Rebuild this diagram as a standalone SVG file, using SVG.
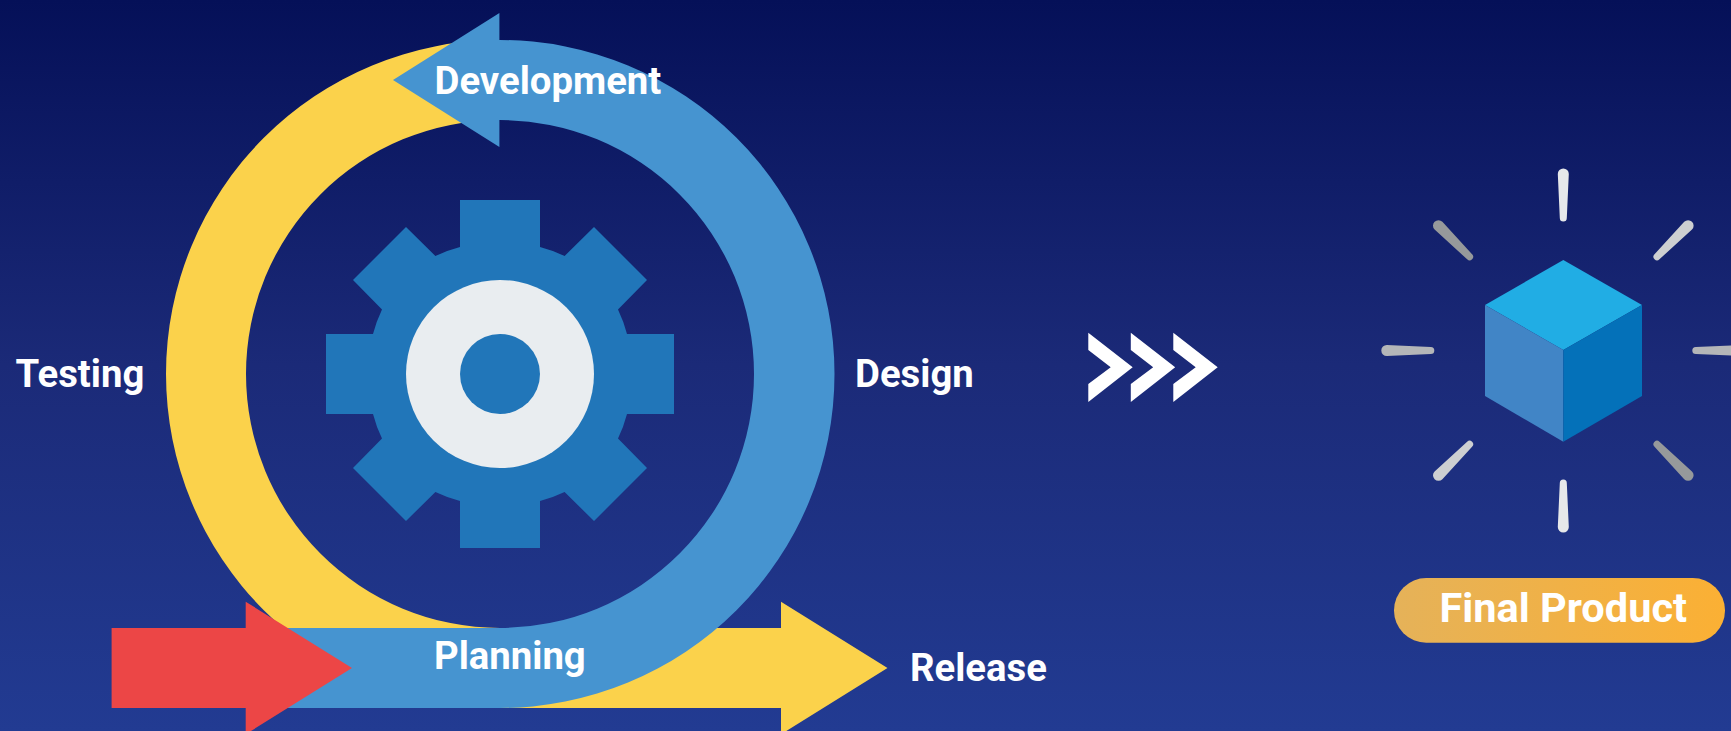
<svg xmlns="http://www.w3.org/2000/svg" xmlns:xlink="http://www.w3.org/1999/xlink" width="1731" height="731" viewBox="0 0 1731 731">
<style>
.lbl{font-family:Roboto,"Liberation Sans",sans-serif;font-weight:700;font-size:38.300px;fill:#fff}
.big{font-size:41.500px}
.gear{fill:#2176b9}
</style>
<defs>
<linearGradient id="bg" x1="0" y1="0" x2="0" y2="1"><stop offset="0" stop-color="#051058"/><stop offset="0.5" stop-color="#1b2a78"/><stop offset="1" stop-color="#223b92"/></linearGradient>
<linearGradient id="pill" x1="0" y1="0" x2="1" y2="0"><stop offset="0" stop-color="#e5b259"/><stop offset="1" stop-color="#fbb034"/></linearGradient>
<path id="ray" d="M-5.5,-176.5A5.5,5.5 0 0 1 5.5,-176.5L3.5,-132.5A3.5,3.5 0 0 1 -3.5,-132.5Z"/>
<polygon id="chev" points="0,0 44.4,34.6 0,69.3 0,51.3 22.4,34.6 0,17.3" fill="#fff"/>
</defs>
<rect id="background" width="1731" height="731" fill="url(#bg)"/>
<g id="connectors">
<path id="release-arrow" fill="#fbd24b" d="M500,628H781V601.7L887.5,668L781,734.3V708H500Z"/>
<path id="testing-arc" fill="#fbd24b" d="M500,40A334,334 0 0 0 500,708L500,628A254,254 0 0 1 500,120Z"/>
<path id="design-arc" fill="#4694d0" d="M499.4,40H500A334.500,334 0 0 1 500,708H280V628H500A254,254 0 0 0 500,120H499.4V147L393,80L499.4,13Z"/>
<path id="start-arrow" fill="#ec4646" d="M111.6,628H245.7V601.7L352,668L245.7,734.3V708H111.6Z"/>
</g>
<g id="gear">
<path class="gear" transform="translate(500,374)" d="M-40,-174H40V-127A134,134 0 0 1 64.6,-118L94,-147L147,-94L118,-64.6A134,134 0 0 1 127,-40H174V40H127A134,134 0 0 1 118,64.6L147,94L94,147L64.6,118A134,134 0 0 1 40,127V174H-40V127A134,134 0 0 1 -64.6,118L-94,147L-147,94L-118,64.6A134,134 0 0 1 -127,40H-174V-40H-127A134,134 0 0 1 -118,-64.6L-147,-94L-94,-147L-64.6,-118A134,134 0 0 1 -40,-127Z"/>
<circle cx="500" cy="374" r="94" fill="#e9edf0"/>
<circle cx="500" cy="374" r="40" class="gear"/>
</g>
<g id="chevrons">
<use xlink:href="#chev" href="#chev" x="1088.3" y="332.700"/>
<use xlink:href="#chev" href="#chev" x="1130.800" y="332.700"/>
<use xlink:href="#chev" href="#chev" x="1173.300" y="332.700"/>
</g>
<g id="final-product-cube">
<polygon points="1563.3,260 1642,305 1563.3,350 1485,305" fill="#21ade4"/>
<polygon points="1485,305 1563.3,350 1563.3,441.700 1485,396" fill="#4185c6"/>
<polygon points="1642,305 1563.3,350 1563.3,441.700 1642,396" fill="#0471b9"/>
<g transform="translate(1563.3,350.500)">
<use href="#ray" fill="#e6e8ea"/>
<use href="#ray" fill="#cdcfd1" transform="rotate(45)"/>
<use href="#ray" fill="#b4b6b8" transform="rotate(90)"/>
<use href="#ray" fill="#96999b" transform="rotate(135)"/>
<use href="#ray" fill="#e6e8ea" transform="rotate(180)"/>
<use href="#ray" fill="#cdcfd1" transform="rotate(225)"/>
<use href="#ray" fill="#b4b6b8" transform="rotate(270)"/>
<use href="#ray" fill="#96999b" transform="rotate(315)"/>
</g>
</g>
<g id="final-product">
<rect x="1394" y="578" width="331" height="64.700" rx="32.300" fill="url(#pill)"/>
<text class="lbl big" x="1439.500" y="622">Final Product</text>
</g>
<g id="development"><text class="lbl" x="434.500" y="93.500">Development</text></g>
<g id="planning"><text class="lbl" x="434" y="669">Planning</text></g>
<g id="release"><text class="lbl" x="910" y="681">Release</text></g>
<g id="testing"><text class="lbl" x="15.500" y="386.500">Testing</text></g>
<g id="design"><text class="lbl" x="855" y="386.500">Design</text></g>
</svg>
